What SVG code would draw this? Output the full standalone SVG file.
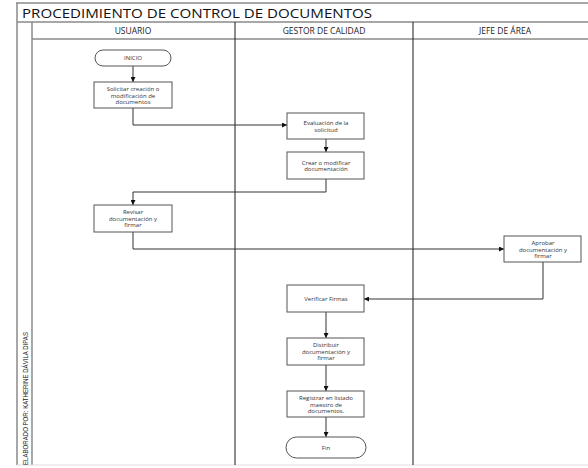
<svg xmlns="http://www.w3.org/2000/svg" width="588" height="468" viewBox="0 0 588 468">
  <style>
    .frame { fill: none; stroke: #8a8a8a; stroke-width: 1.5; }
    .lane { fill: none; stroke: #1a1a1a; stroke-width: 1; }
    .box { fill: #ffffff; stroke: #555555; stroke-width: 1; }
    .conn { fill: none; stroke: #333333; stroke-width: 1; }
    .t { font-family: "Open Sans", "Liberation Sans", sans-serif; font-size: 6px; fill: #333333; text-anchor: middle; }
    .hdr { font-family: "Open Sans", "Liberation Sans", sans-serif; font-size: 8.5px; fill: #222222; text-anchor: middle; }
    .title { font-family: "Open Sans", "Liberation Sans", sans-serif; font-size: 12px; fill: #111111; }
    .side { font-family: "Liberation Sans Narrow", "Liberation Sans", sans-serif; font-size: 8px; fill: #222222; }
  </style>
  <defs>
    <marker id="arrow" viewBox="0 0 10 10" refX="10" refY="5" markerWidth="5" markerHeight="5" orient="auto">
      <path d="M0,0 L10,5 L0,10 z" fill="#111111"/>
    </marker>
  </defs>

  <rect width="588" height="468" fill="#ffffff"/>

  <!-- outer frame, title row, header row -->
  <g id="frame">
    <line class="frame" x1="16" y1="3" x2="588" y2="3"/>
    <line class="frame" x1="17" y1="3" x2="17" y2="465"/>
    <line class="frame" x1="17" y1="22" x2="588" y2="22"/>
    <line class="frame" x1="32" y1="22" x2="32" y2="465"/>
    <line class="frame" x1="32" y1="39" x2="588" y2="39"/>
    <line x1="17" y1="465" x2="588" y2="465" stroke="#dddddd" stroke-width="1"/>
    <line class="lane" x1="235" y1="22" x2="235" y2="465"/>
    <line class="lane" x1="413" y1="22" x2="413" y2="465"/>
    <text class="title" x="22" y="17.5" textLength="350" lengthAdjust="spacingAndGlyphs">PROCEDIMIENTO DE CONTROL DE DOCUMENTOS</text>
    <text class="hdr" x="133" y="34">USUARIO</text>
    <text class="hdr" x="324" y="34">GESTOR DE CALIDAD</text>
    <text class="hdr" x="505" y="34">JEFE DE ÁREA</text>
    <text class="side" transform="translate(28,465) rotate(-90)" textLength="133" lengthAdjust="spacingAndGlyphs">ELABORADO POR: KATHERINE DÁVILA DIPAS</text>
  </g>

  <!-- connectors -->
  <g id="connectors">
    <line class="conn" x1="133" y1="66" x2="133" y2="82" marker-end="url(#arrow)"/>
    <polyline class="conn" points="133,108 133,125 287,125" marker-end="url(#arrow)"/>
    <line class="conn" x1="326" y1="139" x2="326" y2="152" marker-end="url(#arrow)"/>
    <polyline class="conn" points="326,179 326,192 133,192 133,205" marker-end="url(#arrow)"/>
    <polyline class="conn" points="133,232 133,249 504,249" marker-end="url(#arrow)"/>
    <polyline class="conn" points="543,262 543,299 364,299" marker-end="url(#arrow)"/>
    <line class="conn" x1="326" y1="312" x2="326" y2="338" marker-end="url(#arrow)"/>
    <line class="conn" x1="326" y1="365" x2="326" y2="391" marker-end="url(#arrow)"/>
    <line class="conn" x1="326" y1="417" x2="326" y2="437" marker-end="url(#arrow)"/>
  </g>

  <g id="inicio">
    <rect class="box" x="95" y="50" width="76" height="16" rx="8"/>
    <text class="t" x="133" y="60">INICIO</text>
  </g>

  <g id="solicitar">
    <rect class="box" x="94" y="82" width="78" height="26"/>
    <text class="t" x="133" y="91">Solicitar creación o</text>
    <text class="t" x="133" y="97.5">modificación de</text>
    <text class="t" x="133" y="104">documentos</text>
  </g>

  <g id="evaluacion">
    <rect class="box" x="287" y="113" width="77" height="26"/>
    <text class="t" x="326" y="125">Evaluación de la</text>
    <text class="t" x="326" y="131.5">solicitud</text>
  </g>

  <g id="crear">
    <rect class="box" x="287" y="152" width="77" height="27"/>
    <text class="t" x="326" y="164.5">Crear o modificar</text>
    <text class="t" x="326" y="171">documentación</text>
  </g>

  <g id="revisar">
    <rect class="box" x="94" y="205" width="78" height="27"/>
    <text class="t" x="133" y="214">Revisar</text>
    <text class="t" x="133" y="220.5">documentación y</text>
    <text class="t" x="133" y="227">firmar</text>
  </g>

  <g id="aprobar">
    <rect class="box" x="504" y="236" width="77" height="26"/>
    <text class="t" x="543" y="245">Aprobar</text>
    <text class="t" x="543" y="251.5">documentación y</text>
    <text class="t" x="543" y="258">firmar</text>
  </g>

  <g id="verificar">
    <rect class="box" x="287" y="285" width="77" height="27"/>
    <text class="t" x="326" y="301">Verificar Firmas</text>
  </g>

  <g id="distribuir">
    <rect class="box" x="287" y="338" width="77" height="27"/>
    <text class="t" x="326" y="347">Distribuir</text>
    <text class="t" x="326" y="353.5">documentación y</text>
    <text class="t" x="326" y="360">firmar</text>
  </g>

  <g id="registrar">
    <rect class="box" x="287" y="391" width="77" height="26"/>
    <text class="t" x="326" y="400">Registrar en listado</text>
    <text class="t" x="326" y="406.5">maestro de</text>
    <text class="t" x="326" y="413">documentos.</text>
  </g>

  <g id="fin">
    <rect class="box" x="286" y="437" width="80" height="21" rx="10.5"/>
    <text class="t" x="326" y="449.5">Fin</text>
  </g>
</svg>
